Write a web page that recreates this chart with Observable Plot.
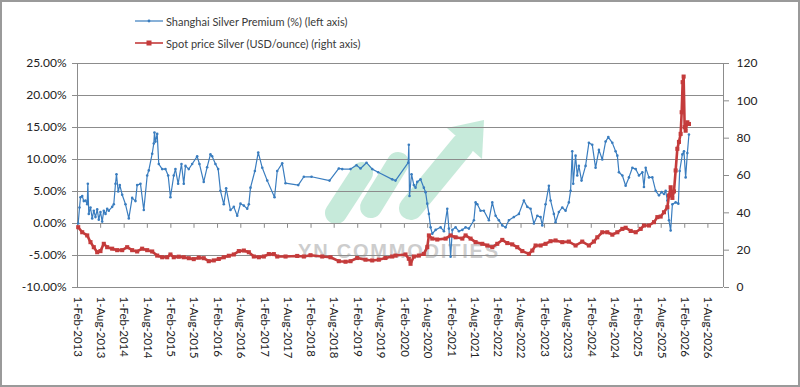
<!DOCTYPE html>
<html>
<head>
<meta charset="utf-8">
<script src="https://cdn.jsdelivr.net/npm/d3@7"></script>
<script src="https://cdn.jsdelivr.net/npm/@observablehq/plot@0.6"></script>
<style>
  html, body { margin: 0; padding: 0; background: #fff; }
  #wrap { position: relative; width: 800px; height: 387px; overflow: hidden; font-family: Lato, "Open Sans", sans-serif; }
  #wm { position: absolute; left: 0; top: 0; z-index: 0; }
  #chart { position: absolute; left: 0; top: 0; z-index: 1; }
  #legend { position: absolute; left: 135px; top: 10px; z-index: 2; font-size: 11px; color: #3a3a3a; }
  #legend div { display: flex; align-items: center; height: 22px; }
  #legend svg { margin-right: 2px; }
  #border { position: absolute; left: 0; top: 0; width: 800px; height: 387px; box-sizing: border-box; border: 2px solid #9a9a9a; z-index: 3; pointer-events: none; }
</style>
</head>
<body>
<div id="wrap">
  <svg id="wm" width="800" height="387">
    <g fill="#8fd6b6" stroke="#8fd6b6" opacity="0.5">
      <line x1="336" y1="213" x2="362" y2="173" stroke-width="22" stroke-linecap="round"/>
      <line x1="371" y1="207" x2="398" y2="163" stroke-width="22" stroke-linecap="round"/>
      <line x1="411" y1="208" x2="462" y2="146" stroke-width="24" stroke-linecap="round"/>
      <polygon points="484,120 447,128 482,159" stroke="none"/>
    </g>
    <text x="298" y="258" font-family="'Liberation Sans', Arial, sans-serif" font-weight="bold" font-size="20" fill="#cdcdcd" letter-spacing="1.8">YN COMMODITIES</text>
  </svg>
  <div id="chart"></div>
  <div id="legend">
    <div><svg width="29" height="8"><line x1="0" y1="4" x2="28" y2="4" stroke="#3a7dbf" stroke-width="1.2"/><circle cx="14" cy="4" r="1.4" fill="#3a7dbf"/></svg>Shanghai Silver Premium (%) (left axis)</div>
    <div><svg width="29" height="8"><line x1="0" y1="4" x2="28" y2="4" stroke="#c43b3b" stroke-width="1.6"/><rect x="11.5" y="1.5" width="5" height="5" fill="#c43b3b"/></svg>Spot price Silver (USD/ounce) (right axis)</div>
  </div>
  <div id="border"></div>
</div>
<script>
// ---- Data ----
// Shanghai Silver Premium, % (left axis); dates as decimal years
const premiumYears = [
  2013.100, 2013.128, 2013.149, 2013.186, 2013.220, 2013.256, 2013.293, 2013.306, 2013.327, 2013.363,
  2013.400, 2013.434, 2013.470, 2013.507, 2013.541, 2013.577, 2013.614, 2013.648, 2013.685, 2013.721,
  2013.755, 2013.828, 2013.862, 2013.899, 2013.920, 2013.957, 2013.991, 2014.042, 2014.113, 2014.184,
  2014.256, 2014.327, 2014.363, 2014.434, 2014.505, 2014.578, 2014.612, 2014.685, 2014.719, 2014.734,
  2014.755, 2014.792, 2014.826, 2014.899, 2014.969, 2015.027, 2015.076, 2015.147, 2015.183, 2015.241,
  2015.312, 2015.361, 2015.398, 2015.468, 2015.541, 2015.648, 2015.697, 2015.789, 2015.862, 2015.933,
  2015.969, 2016.040, 2016.098, 2016.147, 2016.218, 2016.269, 2016.361, 2016.432, 2016.505, 2016.575,
  2016.646, 2016.719, 2016.753, 2016.789, 2016.882, 2016.954, 2017.040, 2017.147, 2017.303, 2017.361,
  2017.468, 2017.539, 2017.811, 2017.931, 2018.096, 2018.481, 2018.680, 2018.753, 2018.931, 2019.059,
  2019.145, 2019.273, 2019.396, 2019.524, 2019.824, 2019.894, 2020.166, 2020.179, 2020.194, 2020.237,
  2020.286, 2020.323, 2020.359, 2020.430, 2020.500, 2020.537, 2020.573, 2020.608, 2020.644, 2020.680,
  2020.751, 2020.858, 2020.929, 2021.001, 2021.036, 2021.072, 2021.109, 2021.179, 2021.250, 2021.323,
  2021.393, 2021.464, 2021.571, 2021.607, 2021.644, 2021.714, 2021.785, 2021.892, 2021.965, 2022.036,
  2022.106, 2022.179, 2022.250, 2022.320, 2022.427, 2022.535, 2022.642, 2022.714, 2022.785, 2022.856,
  2022.929, 2022.999, 2023.036, 2023.106, 2023.177, 2023.213, 2023.284, 2023.320, 2023.391, 2023.464,
  2023.535, 2023.605, 2023.642, 2023.678, 2023.699, 2023.749, 2023.785, 2023.819, 2023.877, 2023.963,
  2024.034, 2024.106, 2024.177, 2024.248, 2024.320, 2024.391, 2024.449, 2024.535, 2024.605, 2024.642,
  2024.676, 2024.749, 2024.819, 2024.890, 2024.963, 2025.034, 2025.104, 2025.177, 2025.211, 2025.248,
  2025.318, 2025.391, 2025.462, 2025.533, 2025.590, 2025.640, 2025.676, 2025.712, 2025.747, 2025.783,
  2025.820, 2025.890, 2025.948, 2025.976, 2026.034, 2026.068, 2026.104, 2026.141, 2026.175
];
const premiumValues = [
  0.0, 2.5, 4.1, 4.3, 3.5, 3.6, 3.0, 6.2, 1.5, 2.5,
  0.8, 2.0, 1.0, 2.2, 0.6, 1.8, 0.3, 2.0, 1.5, 2.3,
  2.0, 2.6, 3.0, 6.2, 7.7, 5.0, 6.0, 4.5, 3.0, 0.8,
  4.0, 3.5, 6.0, 6.2, 2.1, 7.5, 8.3, 10.9, 12.5, 14.2,
  12.8, 14.0, 9.3, 8.5, 8.5, 7.5, 4.1, 7.5, 8.5, 6.2,
  9.3, 6.2, 9.0, 8.5, 9.3, 10.5, 9.3, 6.5, 8.8, 10.8,
  10.5, 9.3, 8.5, 5.1, 3.0, 5.5, 2.1, 2.6, 1.2, 3.1,
  2.8, 2.3, 3.0, 5.6, 8.2, 11.1, 8.7, 6.7, 4.1, 8.2,
  9.4, 6.3, 6.0, 7.3, 7.3, 6.7, 8.6, 8.5, 8.5, 9.1,
  8.6, 9.5, 8.5, 8.0, 6.9, 6.7, 9.5, 12.3, 4.3, 7.7,
  6.0, 5.6, 6.5, 6.9, 5.6, 4.9, 3.1, 1.5, -0.6, -1.6,
  -1.0, -0.6, -1.2, 2.3, -0.8, -5.2, -1.0, -0.6, -1.2, -1.0,
  -0.6, -0.8, 0.5, 3.3, 3.0, 2.0, 2.0, 0.5, 3.3, 1.2,
  0.5, -0.3, -0.6, 0.5, 1.0, 1.5, 3.6, 2.6, 2.3, 0.0,
  1.2, 1.0, -0.3, 3.0, 5.9, 3.6, 1.5, 0.2, 1.8, 2.5,
  2.0, 3.3, 5.1, 11.3, 6.2, 10.6, 7.5, 9.0, 6.7, 9.0,
  12.6, 12.3, 8.7, 11.5, 10.0, 12.8, 13.5, 12.6, 11.3, 10.6,
  8.0, 7.5, 5.9, 7.2, 8.7, 8.5, 7.5, 8.0, 5.7, 8.7,
  7.2, 7.2, 5.1, 4.4, 4.9, 4.6, 5.1, 3.6, 0.5, -1.1,
  3.0, 3.3, 3.1, 8.2, 10.8, 11.3, 7.2, 11.0, 13.9
];
// Spot price Silver, USD/ounce (right axis)
const priceYears = [
  2013.100, 2013.186, 2013.293, 2013.363, 2013.434, 2013.507, 2013.577, 2013.648, 2013.721, 2013.828,
  2013.935, 2014.042, 2014.149, 2014.256, 2014.363, 2014.470, 2014.578, 2014.685, 2014.792, 2014.899,
  2015.006, 2015.076, 2015.147, 2015.254, 2015.361, 2015.468, 2015.575, 2015.682, 2015.789, 2015.897,
  2016.004, 2016.111, 2016.218, 2016.325, 2016.432, 2016.539, 2016.646, 2016.753, 2016.860, 2016.967,
  2017.074, 2017.181, 2017.288, 2017.361, 2017.539, 2017.789, 2017.931, 2018.074, 2018.325, 2018.502,
  2018.680, 2018.824, 2018.931, 2019.074, 2019.252, 2019.396, 2019.537, 2019.680, 2019.824, 2019.894,
  2020.108, 2020.179, 2020.216, 2020.286, 2020.393, 2020.500, 2020.573, 2020.608, 2020.680, 2020.787,
  2020.965, 2021.072, 2021.179, 2021.323, 2021.393, 2021.500, 2021.607, 2021.751, 2021.858, 2021.965,
  2022.072, 2022.179, 2022.286, 2022.393, 2022.500, 2022.608, 2022.749, 2022.822, 2022.892, 2022.999,
  2023.106, 2023.213, 2023.320, 2023.464, 2023.605, 2023.749, 2023.892, 2024.034, 2024.141, 2024.214,
  2024.320, 2024.427, 2024.535, 2024.642, 2024.749, 2024.819, 2024.927, 2025.034, 2025.141, 2025.211,
  2025.318, 2025.426, 2025.498, 2025.569, 2025.640, 2025.712, 2025.747, 2025.783, 2025.820, 2025.854,
  2025.890, 2025.926, 2025.961, 2025.997, 2026.019, 2026.040, 2026.061, 2026.083, 2026.104, 2026.141,
  2026.175
];
const priceValues = [
  32.3, 29.6, 27.9, 24.3, 21.6, 18.9, 19.5, 23.4, 21.6, 20.8,
  20.0, 20.0, 21.6, 20.0, 19.3, 20.8, 20.0, 19.3, 17.1, 16.2,
  16.2, 17.7, 16.2, 16.5, 16.2, 15.7, 15.2, 16.0, 15.7, 14.1,
  14.5, 15.3, 16.2, 17.0, 17.7, 19.5, 19.8, 18.9, 16.6, 16.2,
  16.6, 17.9, 17.9, 16.6, 16.6, 16.9, 16.6, 17.3, 16.6, 16.2,
  14.1, 13.8, 14.1, 15.8, 14.9, 14.5, 14.9, 15.8, 16.6, 17.1,
  17.7, 15.4, 12.7, 16.6, 17.1, 18.0, 21.6, 27.9, 26.2, 25.7,
  26.2, 27.9, 26.9, 26.2, 27.9, 26.2, 24.3, 23.4, 22.5, 21.6,
  23.4, 25.5, 23.8, 23.1, 21.6, 19.5, 18.0, 19.8, 22.5, 22.5,
  23.4, 24.8, 25.2, 24.3, 24.6, 22.5, 24.6, 22.5, 24.6, 26.9,
  29.6, 29.6, 28.3, 29.6, 31.4, 32.0, 30.3, 29.6, 31.4, 33.2,
  33.2, 35.0, 37.7, 38.0, 40.3, 43.0, 49.3, 53.7, 48.0, 51.5,
  62.7, 74.3, 78.0, 82.3, 93.9, 110.0, 113.0, 85.9, 84.0, 88.5,
  87.6
];
const leftTicks = [-10, -5, 0, 5, 10, 15, 20, 25];
const rightTicks = [0, 20, 40, 60, 80, 100, 120];
const xTickLabels = [
  "1-Feb-2013","1-Aug-2013","1-Feb-2014","1-Aug-2014","1-Feb-2015","1-Aug-2015","1-Feb-2016","1-Aug-2016",
  "1-Feb-2017","1-Aug-2017","1-Feb-2018","1-Aug-2018","1-Feb-2019","1-Aug-2019","1-Feb-2020","1-Aug-2020",
  "1-Feb-2021","1-Aug-2021","1-Feb-2022","1-Aug-2022","1-Feb-2023","1-Aug-2023","1-Feb-2024","1-Aug-2024",
  "1-Feb-2025","1-Aug-2025","1-Feb-2026","1-Aug-2026"
];

// ---- Helpers ----
const fromDecimalYear = (y) => {
  const yr = Math.floor(y);
  const a = Date.UTC(yr, 0, 1), b = Date.UTC(yr + 1, 0, 1);
  return new Date(a + (y - yr) * (b - a));
};
// map right-axis price (0..120) onto left-axis percent units (-10..25)
const priceToPct = (p) => -10 + p * 35 / 120;
const pctToPrice = (v) => Math.round((v + 10) * 120 / 35);

const premium = premiumYears.map((y, i) => ({date: fromDecimalYear(y), v: premiumValues[i]}));
const price = priceYears.map((y, i) => ({date: fromDecimalYear(y), v: priceToPct(priceValues[i])}));
const parseLabel = d3.utcParse("%d-%b-%Y");
const xTicks = xTickLabels.map(parseLabel);
const fmtX = d3.utcFormat("%-d-%b-%Y");
const xDomain = [new Date(Date.UTC(2013, 1, 1)), new Date(Date.UTC(2026, 11, 1))];

const BLUE = "#3a7dbf", RED = "#c43b3b", GRID = "#8c8c8c";

const chart = Plot.plot({
  width: 800,
  height: 387,
  marginLeft: 77,
  marginRight: 77,
  marginTop: 63,
  marginBottom: 100,
  style: {background: "transparent", fontFamily: "Lato, 'Open Sans', sans-serif", fontSize: "12px", color: "#222"},
  x: {type: "utc", domain: xDomain},
  y: {domain: [-10, 25]},
  marks: [
    Plot.ruleY(leftTicks, {stroke: GRID, strokeWidth: 1}),
    Plot.ruleX(xDomain, {stroke: GRID, strokeWidth: 1}),
    Plot.ruleX(xTicks, {x: d => d, y1: 0, y2: -0.75, stroke: GRID}),
    Plot.axisY(leftTicks, {anchor: "left", tickSize: 5, tickPadding: 6, stroke: GRID,
      tickFormat: d => d.toFixed(2) + "%", label: null}),
    Plot.axisY(rightTicks.map(priceToPct), {anchor: "right", tickSize: 5, tickPadding: 8, stroke: GRID,
      tickFormat: d => String(pctToPrice(d)), label: null}),
    Plot.axisX(xTicks, {anchor: "bottom", tickSize: 0, tickPadding: 9, tickRotate: 90,
      tickFormat: fmtX, label: null, fontSize: 11.5}),
    Plot.line(premium, {x: "date", y: "v", stroke: BLUE, strokeWidth: 1.2}),
    Plot.dot(premium, {x: "date", y: "v", r: 1.3, fill: BLUE, stroke: "none"}),
    Plot.line(price, {x: "date", y: "v", stroke: RED, strokeWidth: 2.6}),
    Plot.dot(price, {x: "date", y: "v", symbol: "square", r: 2.3, fill: RED, stroke: "none"})
  ]
});
document.getElementById("chart").appendChild(chart);
</script>
</body>
</html>
